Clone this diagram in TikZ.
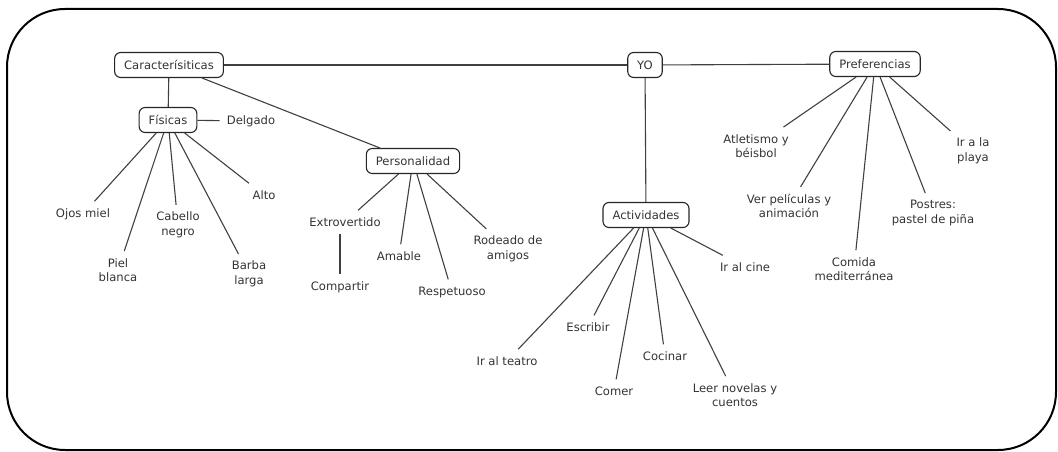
\documentclass[tikz,border=0pt]{standalone}
\usepackage{fontspec}
\setmainfont{DejaVu Sans}
\begin{document}
\begin{tikzpicture}[x=1pt,y=-1pt,
    every node/.style={font=\fontsize{11.6}{14.5}\selectfont, text=black!80},
    box/.style={draw=black!85, line width=1.1pt, rounded corners=6pt, inner xsep=9.5pt, minimum height=25pt},
    leaf/.style={align=center, inner sep=7pt},
    link/.style={draw=black!75, line width=1.1pt}]
    \useasboundingbox (0,0) rectangle (1058,452);
    \draw[line width=2pt, rounded corners=58pt] (7,9) rectangle (1056,450);

    % main boxes
    \node[box] (car) at (169,65) {Caracterísiticas};
    \node[box] (yo) at (645,65) {YO};
    \node[box] (pref) at (875,64) {Preferencias};
    \node[box] (fis) at (168,120) {Físicas};
    \node[box] (pers) at (413,161) {Personalidad};
    \node[box] (act) at (646,215) {Actividades};

    % fisicas
    \node[leaf] (delg) at (251,121) {Delgado};
    \node[leaf] (ojos) at (83,214) {Ojos miel};
    \node[leaf] (piel) at (118,270) {Piel\\blanca};
    \node[leaf] (cab) at (178,225) {Cabello\\negro};
    \node[leaf] (barba) at (249,274) {Barba\\larga};
    \node[leaf] (alto) at (264,195) {Alto};

    % personalidad
    \node[leaf] (ext) at (345,222) {Extrovertido};
    \node[leaf] (comp) at (340,287) {Compartir};
    \node[leaf] (amab) at (399,256) {Amable};
    \node[leaf] (resp) at (452,292) {Respetuoso};
    \node[leaf] (rode) at (508,249) {Rodeado de\\amigos};

    % actividades
    \node[leaf] (teatro) at (507,361) {Ir al teatro};
    \node[leaf] (escr) at (588,327) {Escribir};
    \node[leaf] (comer) at (614,391) {Comer};
    \node[leaf] (coc) at (665,356) {Cocinar};
    \node[leaf] (leer) at (735,395) {Leer novelas y\\cuentos};
    \node[leaf] (cine) at (745,267) {Ir al cine};

    % preferencias
    \node[leaf] (atl) at (756,146) {Atletismo y\\béisbol};
    \node[leaf] (ver) at (789,206) {Ver películas y\\animación};
    \node[leaf] (comida) at (854,269) {Comida\\mediterránea};
    \node[leaf] (postres) at (933,213) {Postres:\\pastel de piña};
    \node[leaf] (playa) at (973,151) {Ir a la\\playa};

    \draw[link] (car)--(yo); \draw[link] (yo)--(pref);
    \draw[link] (car)--(fis); \draw[link] (car)--(pers); \draw[link] (yo)--(act);

    \draw[link] (fis)--(delg); \draw[link] (fis)--(ojos); \draw[link] (fis)--(piel);
    \draw[link] (fis)--(cab); \draw[link] (fis)--(barba); \draw[link] (fis)--(alto);

    \draw[link] (pers)--(ext); \draw[link] (ext.south -| comp)--(comp); \draw[link] (pers)--(amab);
    \draw[link] (pers)--(resp); \draw[link] (pers)--(rode);

    \draw[link] (act)--(teatro); \draw[link] (act)--(escr); \draw[link] (act)--(comer);
    \draw[link] (act)--(coc); \draw[link] (act)--(leer); \draw[link] (act)--(cine);

    \draw[link] (pref)--(atl); \draw[link] (pref)--(ver); \draw[link] (pref)--(comida);
    \draw[link] (pref)--(postres); \draw[link] (pref)--(playa);
\end{tikzpicture}
\end{document}
